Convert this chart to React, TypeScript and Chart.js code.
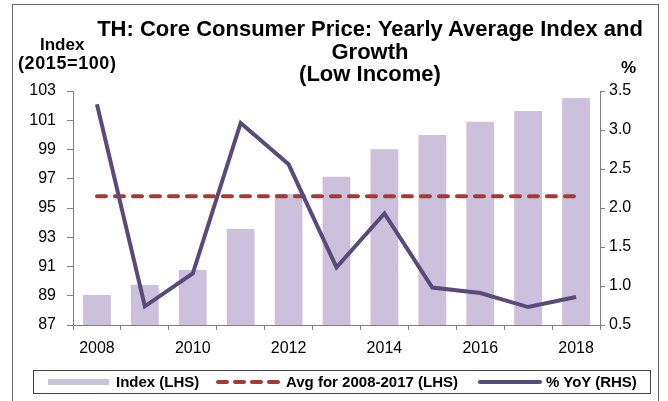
import React, { useEffect, useRef } from "react";
import { Chart, registerables } from "chart.js";

Chart.register(...registerables);

const years = ["2008", "2009", "2010", "2011", "2012", "2013", "2014", "2015", "2016", "2017", "2018"];
const indexValues = [89.05, 89.73, 90.76, 93.56, 95.96, 97.14, 99.01, 100.0, 100.9, 101.63, 102.52];
const avgValues = [95.8, 95.8, 95.8, 95.8, 95.8, 95.8, 95.8, 95.8, 95.8, 95.8, 95.8];
const yoyValues = [3.33, 0.74, 1.16, 3.09, 2.56, 1.24, 1.93, 0.98, 0.91, 0.73, 0.86];

const FONT = "'Liberation Sans', Arial, sans-serif";
const BAR = "#cbc1dc";
const AVG = "#a33b35";
const YOY = "#5a4a7c";
const AXIS = "#808080";

export default function App() {
  const ref = useRef<HTMLCanvasElement>(null);

  useEffect(() => {
    const canvas = ref.current;
    if (!canvas) return;
    const tickFont = { family: FONT, size: 16 };
    const chart = new Chart(canvas, {
      type: "bar",
      data: {
        labels: years,
        datasets: [
          {
            type: "line",
            label: "% YoY (RHS)",
            data: yoyValues,
            yAxisID: "y1",
            borderColor: YOY,
            borderWidth: 4,
            pointRadius: 0,
            tension: 0,
            order: 1,
          } as any,
          {
            type: "line",
            label: "Avg for 2008-2017 (LHS)",
            data: avgValues,
            yAxisID: "y",
            borderColor: AVG,
            borderWidth: 4,
            borderDash: [9, 9],
            borderCapStyle: "round",
            pointRadius: 0,
            order: 2,
          } as any,
          {
            type: "bar",
            label: "Index (LHS)",
            data: indexValues,
            yAxisID: "y",
            backgroundColor: BAR,
            barPercentage: 0.58,
            categoryPercentage: 1,
            order: 3,
          } as any,
        ],
      },
      options: {
        responsive: false,
        animation: false,
        events: [],
        layout: { padding: { top: 91, left: 0, right: 0, bottom: 0 } },
        plugins: {
          legend: { display: false },
          title: { display: false },
          tooltip: { enabled: false },
        },
        scales: {
          x: {
            grid: { display: true, drawOnChartArea: false, drawTicks: true, tickLength: 5, color: AXIS, offset: true },
            border: { display: true, color: AXIS, width: 1 },
            ticks: {
              autoSkip: false,
              maxRotation: 0,
              padding: 9,
              color: "#000",
              font: tickFont,
              callback: (_v: any, i: number) => (i % 2 === 0 ? years[i] : ""),
            },
            afterFit: (s: any) => {
              s.height = 76;
            },
          },
          y: {
            position: "left",
            min: 87,
            max: 103,
            grid: { display: true, drawOnChartArea: false, drawTicks: true, tickLength: 6, color: AXIS },
            border: { display: true, color: AXIS, width: 1 },
            ticks: { stepSize: 2, padding: 11, color: "#000", font: tickFont },
            afterFit: (s: any) => {
              s.width = 73;
            },
          },
          y1: {
            position: "right",
            min: 0.5,
            max: 3.5,
            grid: { display: true, drawOnChartArea: false, drawTicks: true, tickLength: 5, color: AXIS },
            border: { display: true, color: AXIS, width: 1 },
            ticks: {
              stepSize: 0.5,
              padding: 4,
              color: "#000",
              font: tickFont,
              callback: (v: any) => Number(v).toFixed(1),
            },
            afterFit: (s: any) => {
              s.width = 68;
            },
          },
        },
      } as any,
    });
    return () => chart.destroy();
  }, []);

  const text = (content: React.ReactNode, style: React.CSSProperties) => (
    <div
      style={{
        position: "absolute",
        fontFamily: FONT,
        fontWeight: "bold",
        color: "#000",
        whiteSpace: "nowrap",
        ...style,
      }}
    >
      {content}
    </div>
  );

  return (
    <div style={{ position: "fixed", left: 0, top: 0, width: 668, height: 401, background: "#fff", overflow: "hidden" }}>
      <div
        style={{
          position: "absolute",
          left: 12,
          top: 4,
          width: 647,
          height: 420,
          border: "1px solid #666",
          boxSizing: "border-box",
        }}
      />
      <canvas ref={ref} width={668} height={401} style={{ position: "absolute", left: 0, top: 0 }} />
      {text(
        <>
          TH: Core Consumer Price: Yearly Average Index and
          <br />
          Growth
          <br />
          (Low Income)
        </>,
        { left: 70, top: 18, width: 600, textAlign: "center", fontSize: 22, lineHeight: "22.5px" }
      )}
      {text("Index", { left: 40, top: 35, fontSize: 17, lineHeight: "20px" })}
      {text("(2015=100)", { left: 18, top: 53, fontSize: 18, lineHeight: "20px", letterSpacing: "0.6px" })}
      {text("%", { left: 621, top: 58, fontSize: 17, lineHeight: "20px" })}

      <div
        style={{
          position: "absolute",
          left: 33,
          top: 370,
          width: 618,
          height: 24,
          border: "1px solid #444",
          boxSizing: "border-box",
        }}
      />
      <div style={{ position: "absolute", left: 48, top: 379, width: 61, height: 6, background: BAR }} />
      {text("Index (LHS)", { left: 116, top: 372, fontSize: 15, lineHeight: "20px" })}
      {[0, 1, 2, 3].map((i) => (
        <div
          key={i}
          style={{
            position: "absolute",
            left: 216 + i * 17,
            top: 380,
            width: 13,
            height: 4,
            borderRadius: 2,
            background: AVG,
          }}
        />
      ))}
      {text("Avg for 2008-2017 (LHS)", { left: 286, top: 372, fontSize: 15, lineHeight: "20px" })}
      <div style={{ position: "absolute", left: 478, top: 380, width: 64, height: 4, borderRadius: 2, background: YOY }} />
      {text("% YoY (RHS)", { left: 546, top: 372, fontSize: 15, lineHeight: "20px" })}
    </div>
  );
}
